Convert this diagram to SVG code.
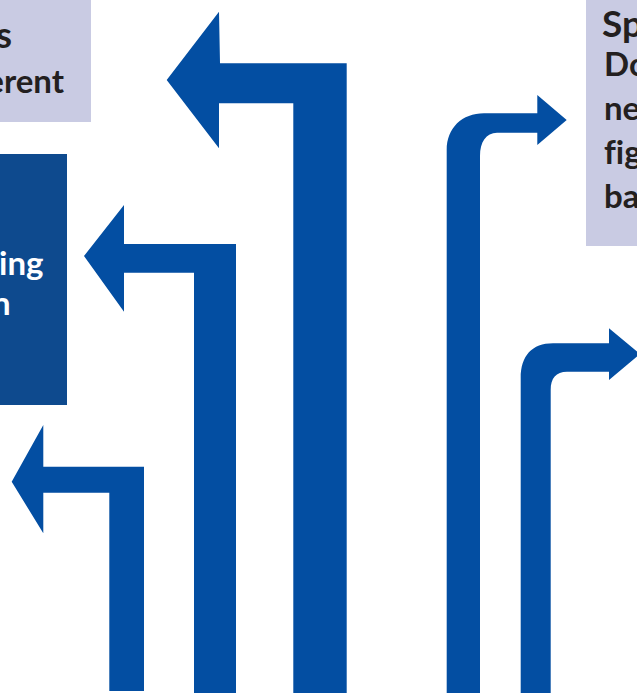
<svg xmlns="http://www.w3.org/2000/svg" width="637" height="698" viewBox="0 0 637 698">
  <style>
    .panel-light { fill: #c9cbe3; }
    .panel-dark { fill: #0e4a8e; }
    .arrow { fill: #034ea2; }
    .txt { font-family: Lato, "Open Sans", "Liberation Sans", sans-serif; font-weight: 700; font-variant-ligatures: none; }
    .dark { fill: #231f20; }
    .light { fill: #ffffff; }
    .head { font-size: 37px; }
    .body { font-size: 33px; }
  </style>

  <!-- Text panels -->
  <g id="panel-top-left">
    <rect class="panel-light" x="0" y="0" width="91" height="122"/>
    <text class="txt dark head" x="12" y="48" text-anchor="end">s</text>
    <text class="txt dark body" x="64" y="92.5" text-anchor="end">erent</text>
  </g>

  <g id="panel-mid-left">
    <rect class="panel-dark" x="0" y="154" width="67" height="251"/>
    <text class="txt light body" x="43.5" y="275" text-anchor="end">ing</text>
    <text class="txt light body" x="10.5" y="315" text-anchor="end">n</text>
  </g>

  <g id="panel-right">
    <rect class="panel-light" x="586" y="0" width="51" height="246"/>
    <text class="txt dark head" x="602" y="37">Sp</text>
    <text class="txt dark body" x="604" y="76">Do</text>
    <text class="txt dark body" x="604" y="120">ne</text>
    <text class="txt dark body" x="604" y="164">fig</text>
    <text class="txt dark body" x="604" y="208">ba</text>
  </g>

  <!-- Arrows -->
  <g id="connectors">
    <!-- tall left-turn arrow -->
    <polygon class="arrow" points="346.7,693 346.7,63.3 220,63.3 219,11.7 166.7,80 219,148.3 219,103.3 293.3,103.3 293.3,693"/>
    <!-- middle left-turn arrow -->
    <polygon class="arrow" points="236,693 236,244 124,244 124,205 84,256 124,311.7 124,272.7 194,272.7 194,693"/>
    <!-- short left-turn arrow -->
    <polygon class="arrow" points="144,691 144,466.7 43.3,466.7 43.3,425 11.7,481.7 43.3,533.3 43.3,492.7 109.3,492.7 109.3,691"/>
    <!-- rounded right-turn arrows -->
    <path class="arrow" d="M446.7,693 V150 C446.7,128 462,113.3 484,113.3 H537.3 V95 L566.7,120 L537.3,145 V132.7 H497 C486,132.7 480,142 480,156 V693 Z"/>
    <path class="arrow" d="M520.7,693 V378 C520.7,356 532,343.3 553,343.3 H609 V328.3 L640,354 L609,380 V371.7 H567 C556,371.7 550.7,378 550.7,390 V693 Z"/>
  </g>
</svg>
